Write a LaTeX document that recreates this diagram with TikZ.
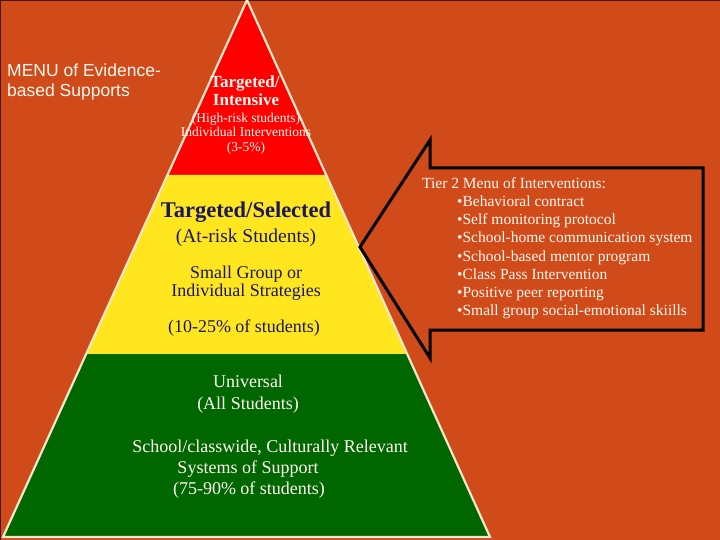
\documentclass[tikz,border=0pt]{standalone}
\usepackage{fontspec}
\setmainfont{Liberation Serif}
\newfontfamily\menufont{Liberation Sans}
\usepackage{tikz}
\definecolor{slideorange}{RGB}{208,74,26}
\definecolor{slidedark}{RGB}{70,22,8}
\definecolor{tierred}{RGB}{255,0,0}
\definecolor{tieryellow}{RGB}{255,230,30}
\definecolor{tiergreen}{RGB}{0,102,0}
\definecolor{tiercream}{RGB}{240,232,200}
\definecolor{tiernavy}{RGB}{28,24,96}
\definecolor{tierwhite}{RGB}{255,250,240}

\begin{document}
\begin{tikzpicture}[x=1pt,y=-1pt,
    line/.style={anchor=base,inner sep=0pt},
    redtxt/.style={line,tierwhite},
    yeltxt/.style={line,tiernavy},
    grntxt/.style={line,tierwhite,font=\fontsize{18}{21}\selectfont},
    listtxt/.style={line,anchor=base west,tierwhite,font=\fontsize{15.5}{18}\selectfont}]
    \useasboundingbox (0,0) rectangle (720,540);
    \fill[slideorange] (0,0) rectangle (720,540);
    \draw[slidedark,line width=1.5] (0,540)--(0,0)--(720,0);
    % Piramide
    \coordinate (apex) at (247,0);
    \coordinate (redL) at (167,175);
    \coordinate (redR) at (326,175);
    \coordinate (yelL) at (86,354);
    \coordinate (yelR) at (407,354);
    \coordinate (grnL) at (3,537);
    \coordinate (grnR) at (490,537);
    \fill[tierred] (apex)--(redR)--(redL)--cycle;
    \fill[tieryellow] (redL)--(redR)--(yelR)--(yelL)--cycle;
    \fill[tiergreen] (yelL)--(yelR)--(grnR)--(grnL)--cycle;
    \draw[tiercream,line width=2.2,line join=miter] (apex)--(grnR)--(grnL)--cycle;
    % Seta
    \draw[black,line width=3,line join=miter,miter limit=20]
        (360,247)--(430,140)--(430,168)--(703,168)--(703,330)--(430,330)--(430,358)--cycle;
    % legenda esquerda
    \node[line,anchor=base west,tierwhite,font=\menufont\fontsize{17.5}{20}\selectfont] (menu1) at (7,77) {MENU of Evidence-};
    \node[line,anchor=base west,tierwhite,font=\menufont\fontsize{17.5}{20}\selectfont] (menu2) at (7,97) {based Supports};
    % Topo vermelho
    \node[redtxt,font=\bfseries\fontsize{17}{18}\selectfont] (tgt1) at (245,88) {Targeted/};
    \node[redtxt,font=\bfseries\fontsize{17}{18}\selectfont] (tgt2) at (246,106) {Intensive};
    \node[redtxt,font=\fontsize{13.5}{15}\selectfont] (high) at (246,123) {(High-risk students)};
    \node[redtxt,font=\fontsize{13.5}{15}\selectfont] (indiv) at (246,137) {Individual Interventions};
    \node[redtxt,font=\fontsize{13.5}{15}\selectfont] (pct1) at (246,152) {(3-5\%)};
    % Meio amarelo
    \node[yeltxt,font=\bfseries\fontsize{22.5}{24}\selectfont] (sel) at (246,218) {Targeted/Selected};
    \node[yeltxt,font=\fontsize{19.5}{21}\selectfont] (atrisk) at (246,243) {(At-risk Students)};
    \node[yeltxt,font=\fontsize{18}{20}\selectfont] (small) at (246,278) {Small Group or};
    \node[yeltxt,font=\fontsize{18}{20}\selectfont] (strat) at (246,296) {Individual Strategies};
    \node[yeltxt,font=\fontsize{18}{20}\selectfont] (pct2) at (244,332) {(10-25\% of students)};
    % Base verde
    \node[grntxt] (univ) at (248,387) {Universal};
    \node[grntxt] (all) at (248,409) {(All Students)};
    \node[grntxt] (school) at (270,452) {School/classwide, Culturally Relevant};
    \node[grntxt] (sys) at (248,473) {Systems of Support};
    \node[grntxt] (pct3) at (249,494) {(75-90\% of students)};
    % Menu Tier 2
    \node[listtxt] (menuhead) at (422,189) {Tier 2 Menu of Interventions:};
    \foreach \entry [count=\i] in {Behavioral contract,Self monitoring protocol,
        School-home communication system,School-based mentor program,
        Class Pass Intervention,Positive peer reporting,
        Small group social-emotional skiills}{
        \node[listtxt] (item\i) at (457,{189+18*\i}) {•\entry};
    }
\end{tikzpicture}
\end{document}
